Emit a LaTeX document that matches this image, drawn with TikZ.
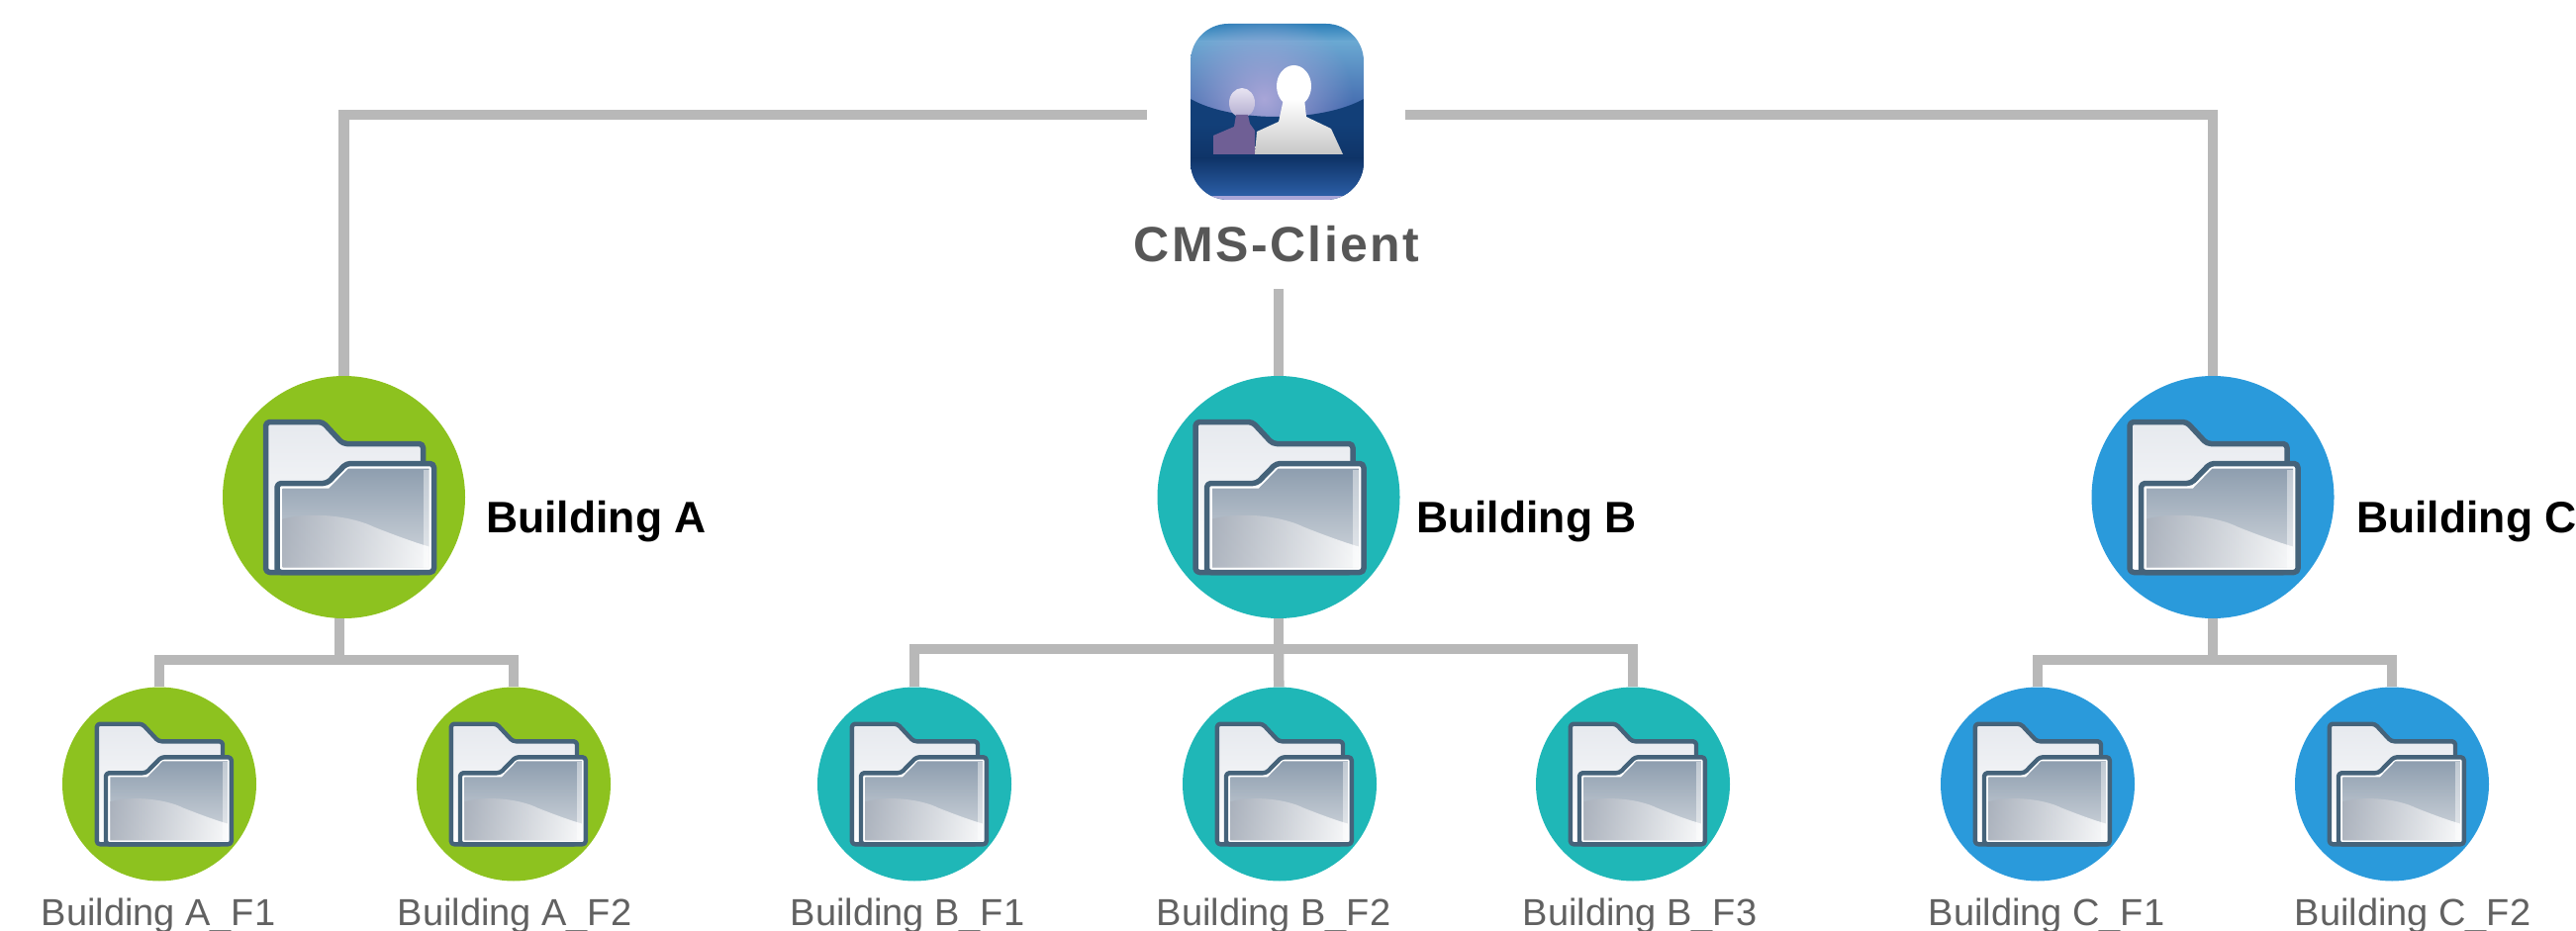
\documentclass[tikz,border=0pt]{standalone}
\usepackage{fontspec}
\setmainfont{Liberation Sans}
\usetikzlibrary{backgrounds,fadings}
\definecolor{lineg}{HTML}{B8B8B8}
\definecolor{cA}{HTML}{8DC21F}
\definecolor{cB}{HTML}{1FB7B7}
\definecolor{cC}{HTML}{2A9ADB}
\definecolor{folderline}{HTML}{45637A}
\definecolor{FolderTop}{HTML}{8E9EAF}
\definecolor{FolderMid}{HTML}{A9B0BB}
\definecolor{FolderBot}{HTML}{D3D8DE}
\definecolor{FolderBack}{HTML}{E6E9EE}
\definecolor{icA}{HTML}{2A7DB8}
\definecolor{icL}{HTML}{6AA8D2}
\definecolor{icC}{HTML}{3B5CA6}
\definecolor{icD}{HTML}{123F78}
\definecolor{icE}{HTML}{0F3468}
\definecolor{icF}{HTML}{2B5EA6}
\definecolor{icG}{HTML}{A9A6D8}
\definecolor{pA}{HTML}{E8E4F2}
\definecolor{pB}{HTML}{B2ACCF}
\definecolor{pC}{HTML}{6F5F95}
\tikzfading[name=glowfade,inner color=transparent!0,outer color=transparent!100]
\tikzset{
  conn/.style={draw=lineg,line width=10.5pt,line cap=butt,line join=miter},
  bigdisc/.style={circle,minimum size=245pt,inner sep=0pt,fill=#1},
  smalldisc/.style={circle,minimum size=196pt,inner sep=0pt,fill=#1},
  bigtext/.style={anchor=base west,font=\bfseries\fontsize{44.5}{44.5}\selectfont,text=black,inner sep=0pt},
  smalltext/.style={anchor=base,font=\fontsize{38}{38}\selectfont,text=black!62,inner sep=0pt},
  folder/.pic={
    \begin{scope}[scale=#1,x=1pt,y=-1pt]
      \path[top color=FolderBack,bottom color=white,draw=folderline,line width=#1*5.5pt,line join=round,rounded corners=#1*4pt]
        (-79,-76) -- (-21.5,-76) -- (-1,-54) -- (80,-54) -- (80,-30) -- (80,76) -- (-79,76) -- cycle;
      \path[fill=white] (-67,-14) -- (-17,-14) -- (2.5,-34) -- (91,-34) -- (91,76) -- (-67,76) -- cycle;
      \path[top color=FolderTop,bottom color=FolderBot,draw=none]
        (-62,-9) -- (-15,-9) -- (4.5,-29) -- (86,-29) -- (86,71) -- (-62,71) -- cycle;
      \path[left color=FolderMid,right color=white,draw=none,opacity=.85]
        (-62,22) .. controls (-30,14) and (10,20) .. (30,30) .. controls (50,38) and (72,46) .. (86,50) -- (86,71) -- (-62,71) -- cycle;
      \path[fill=white,fill opacity=.45] (80,-28) -- (86,-28) -- (86,71) -- (80,71) -- cycle;
      \path[draw=folderline,line width=#1*5.5pt,line join=round,rounded corners=#1*4pt]
        (-67.5,76) -- (-67.5,-14) -- (-17,-14) -- (2.5,-34) -- (91,-34) -- (91,76) -- cycle;
    \end{scope}
  }
}
\begin{document}
\begin{tikzpicture}[x=1pt,y=-1pt]
\useasboundingbox (0,0) rectangle (2603,941);

% client icon
\begin{scope}
  \path[clip,rounded corners=38pt] (1203,24) rectangle (1378,202);
  \shade[top color=icA,bottom color=icL] (1203,23) rectangle (1378,42);
  \shade[top color=icL,bottom color=icC] (1203,42) rectangle (1378,125);
  \fill[icG,path fading=glowfade] (1277,100) circle (90pt);
  \fill[icD] (1203,100) .. controls (1245,124) and (1335,124) .. (1378,100) -- (1378,203) -- (1203,203) -- cycle;
  \shade[top color=icD,bottom color=icE] (1203,125) rectangle (1378,160);
  \shade[top color=icE,bottom color=icF] (1203,160) rectangle (1378,198);
  \fill[icG] (1203,198) rectangle (1378,203);
\end{scope}
% people
\shade[top color=pA,bottom color=pB] (1255,104) ellipse (13pt and 15pt);
\fill[pC] (1249,116) -- (1261,116) -- (1263,125) -- (1268,132) -- (1268,156) -- (1226,156) -- (1226,137) -- (1247,128) -- cycle;
\fill[white] (1307.5,87) ellipse (17.5pt and 21pt);
\shade[top color=white,bottom color=black!22] (1297,100) -- (1318,100) -- (1320,118) -- (1345,130) -- (1357,156) -- (1268,156) -- (1270,133) -- (1292,123) -- cycle;

% nodes
\node[minimum width=261pt,minimum height=180pt,inner sep=0pt] (client) at (1289.5,113) {};
\node[anchor=base,inner sep=0pt,text=black!66] (clientlabel) at (1290,265)
  {\fontsize{50}{50}\selectfont\bfseries\addfontfeature{LetterSpace=5}CMS-Client};

\node[bigdisc=cA] (bigA) at (347.5,502.5) {};
\node[bigdisc=cB] (bigB) at (1292,502.5) {};
\node[bigdisc=cC] (bigC) at (2236,502.5) {};
\pic at (bigA) {folder=1};
\pic at ([xshift=-5pt]bigB) {folder=1};
\pic at ([xshift=-5pt]bigC) {folder=1};
\node[bigtext] (labA) at (491,538) {Building A};
\node[bigtext] (labB) at (1431,538) {Building B};
\node[bigtext] (labC) at (2381,538) {Building C};

\foreach \n/\x/\c/\lx/\t in {
  af1/161/cA/160/Building A\_F1, af2/519/cA/520/Building A\_F2,
  bf1/924/cB/917/Building B\_F1, bf2/1293/cB/1287/Building B\_F2, bf3/1650/cB/1657/Building B\_F3,
  cf1/2059/cC/2068/Building C\_F1, cf2/2417/cC/2438/Building C\_F2}{
  \node[smalldisc=\c] (\n) at (\x,792.5) {};
  \pic at (\n) {folder=0.8};
  \node[smalltext] (\n t) at (\lx,935) {\t};
}

\coordinate (gapB) at (1292,292);
\coordinate (busA) at (343,667);
\coordinate (busB) at (1292,656);
\coordinate (busC) at (2236,667);

\begin{scope}[on background layer]
  \draw[conn] (client.west |- 0,116) -| (bigA);
  \draw[conn] (client.east |- 0,116) -| (bigC);
  \draw[conn] (gapB) -- (bigB);
  \draw[conn] (busA |- bigA) -- (busA);
  \draw[conn] (bigB) -- (busB);
  \draw[conn] (bigC) -- (busC);
  \draw[conn] (af1) |- (busA) -| (af2);
  \draw[conn] (bf1) |- (busB) -| (bf3);
  \draw[conn] (busB) -- (bf2);
  \draw[conn] (cf1) |- (busC) -| (cf2);
\end{scope}
\end{tikzpicture}
\end{document}
